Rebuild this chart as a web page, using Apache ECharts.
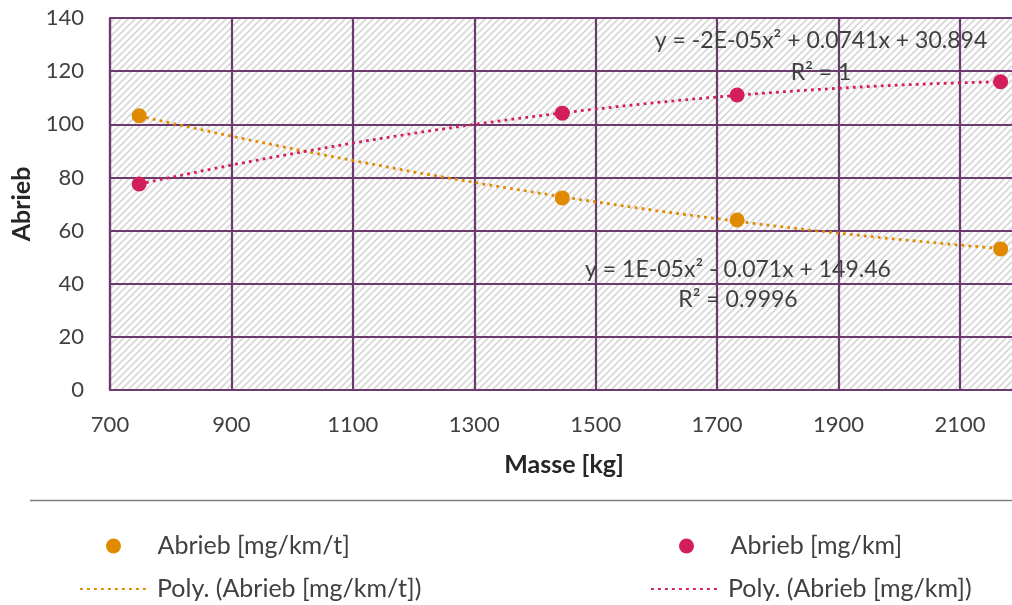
<!DOCTYPE html>
<html>
<head>
<meta charset="utf-8">
<script src="https://cdn.jsdelivr.net/npm/echarts@6/dist/echarts.min.js"></script>
<style>
  html, body { margin: 0; padding: 0; background: #fff; overflow: hidden; }
  #chart { width: 1012px; height: 605px; }
</style>
</head>
<body>
<div id="chart"></div>
<script>
// Vehicle mass [kg] against abrasion, two measured series
const masse = [748, 1445, 1733, 2167];
const abriebProTonne = [103.2, 72.3, 64.0, 53.1];   // Abrieb [mg/km/t]
const abriebProKm = [77.5, 104.2, 111.0, 116.0];    // Abrieb [mg/km]

const seriesNames = ['Abrieb [mg/km/t]', 'Abrieb [mg/km]'];
const trendNames = ['Poly. (Abrieb [mg/km/t])', 'Poly. (Abrieb [mg/km])'];
const equationTexts = [
  ['y = 1E-05x² - 0.071x + 149.46', 'R² = 0.9996'],
  ['y = -2E-05x² + 0.0741x + 30.894', 'R² = 1']
];

const xTicks = { min: 700, max: 2250, interval: 200 };
const yTicks = { min: 0, max: 140, interval: 20 };

const ORANGE = '#E08A00';
const PINK = '#D21F5C';
const GRID = '#6B3A6E';
const TEXT = '#404040';
const FONT = 'Lato, "Open Sans", sans-serif';

// Least-squares polynomial of order 2 through the measured points (trend line)
function quadFit(xs, ys) {
  const s = [0, 0, 0, 0, 0], t = [0, 0, 0];
  for (let i = 0; i < xs.length; i++) {
    let p = 1;
    for (let k = 0; k <= 4; k++) { s[k] += p; if (k <= 2) t[k] += p * ys[i]; p *= xs[i]; }
  }
  const M = [[s[0], s[1], s[2], t[0]], [s[1], s[2], s[3], t[1]], [s[2], s[3], s[4], t[2]]];
  for (let c = 0; c < 3; c++) {
    for (let r = c + 1; r < 3; r++) {
      const f = M[r][c] / M[c][c];
      for (let k = c; k < 4; k++) M[r][k] -= f * M[c][k];
    }
  }
  const co = [0, 0, 0];
  for (let r = 2; r >= 0; r--) {
    let v = M[r][3];
    for (let k = r + 1; k < 3; k++) v -= M[r][k] * co[k];
    co[r] = v / M[r][r];
  }
  return co; // c0 + c1 x + c2 x^2
}
function trendPoints(xs, ys) {
  const co = quadFit(xs, ys);
  const x0 = Math.min.apply(null, xs), x1 = Math.max.apply(null, xs);
  const pts = [];
  const n = 80;
  for (let i = 0; i <= n; i++) {
    const x = x0 + (x1 - x0) * i / n;
    pts.push([x, co[0] + co[1] * x + co[2] * x * x]);
  }
  return pts;
}

// Hatched plot-area fill
function hatchPattern() {
  const s = 7;
  const c = document.createElement('canvas');
  c.width = s; c.height = s;
  const g = c.getContext('2d');
  g.fillStyle = '#ffffff';
  g.fillRect(0, 0, s, s);
  g.strokeStyle = '#d6d6d6';
  g.lineWidth = 1.6;
  [-s, 0, s].forEach(function (o) {
    g.beginPath();
    g.moveTo(o - 1, s + 1);
    g.lineTo(o + s + 1, -1);
    g.stroke();
  });
  return c;
}

const chart = echarts.init(document.getElementById('chart'), null, { renderer: 'canvas' });

const dotted = { width: 2.8, type: [2.8, 4.2] };

function legendBox(name, left, top, isLine) {
  return {
    left: left, top: top, orient: 'vertical',
    itemWidth: 66, itemHeight: 15,
    textStyle: { color: TEXT, fontSize: 25, fontFamily: FONT, padding: [0, 0, 0, 6], lineHeight: 30 },
    data: [isLine ? { name: name, itemStyle: { opacity: 0 } } : name]
  };
}

const option = {
  animation: false,
  backgroundColor: '#fff',
  textStyle: { fontFamily: FONT },
  grid: {
    show: true,
    left: 110, top: 18, bottom: 215, width: 941,
    outerBoundsMode: 'none',
    containLabel: false,
    borderWidth: 0,
    backgroundColor: { image: hatchPattern(), repeat: 'repeat' }
  },
  xAxis: {
    type: 'value',
    min: xTicks.min, max: xTicks.max, interval: xTicks.interval,
    axisLine: { show: true, lineStyle: { color: GRID, width: 2.2 } },
    axisTick: { show: false },
    splitLine: { show: true, lineStyle: { color: GRID, width: 2.2 } },
    axisLabel: {
      color: TEXT, fontSize: 22, fontFamily: FONT, margin: 24, showMaxLabel: false,
      formatter: function (v) { return String(v); }
    }
  },
  yAxis: {
    type: 'value',
    min: yTicks.min, max: yTicks.max, interval: yTicks.interval,
    name: 'Abrieb',
    nameLocation: 'middle',
    nameGap: 73,
    nameTextStyle: { color: '#262626', fontSize: 25, fontWeight: 'bold', fontFamily: FONT },
    axisLine: { show: true, lineStyle: { color: GRID, width: 2.2 } },
    axisTick: { show: false },
    splitLine: { show: true, lineStyle: { color: GRID, width: 2.2 } },
    axisLabel: {
      color: TEXT, fontSize: 22, fontFamily: FONT, margin: 26,
      formatter: function (v) { return String(v); }
    }
  },
  legend: [
    legendBox(seriesNames[0], 101, 526, false),
    legendBox(trendNames[0], 74, 569, true),
    legendBox(seriesNames[1], 674, 526, false),
    legendBox(trendNames[1], 645, 569, true)
  ],
  series: [
    {
      name: trendNames[0], type: 'line', showSymbol: false, symbol: 'none',
      data: trendPoints(masse, abriebProTonne),
      lineStyle: Object.assign({ color: ORANGE }, dotted),
      itemStyle: { color: ORANGE }, z: 3
    },
    {
      name: trendNames[1], type: 'line', showSymbol: false, symbol: 'none',
      data: trendPoints(masse, abriebProKm),
      lineStyle: Object.assign({ color: PINK }, dotted),
      itemStyle: { color: PINK }, z: 3
    },
    {
      name: seriesNames[0], type: 'scatter', symbolSize: 15,
      data: masse.map(function (m, i) { return [m, abriebProTonne[i]]; }),
      itemStyle: { color: ORANGE, opacity: 1 }, z: 4
    },
    {
      name: seriesNames[1], type: 'scatter', symbolSize: 15,
      data: masse.map(function (m, i) { return [m, abriebProKm[i]]; }),
      itemStyle: { color: PINK, opacity: 1 }, z: 4
    }
  ],
  graphic: [
    { type: 'text', x: 564, y: 465, style: { text: 'Masse [kg]', font: 'bold 25px ' + FONT, fill: '#262626', textAlign: 'center', textVerticalAlign: 'middle' } },
    { type: 'text', x: 821, y: 41, z: 10, style: { text: equationTexts[1][0], font: '23px ' + FONT, fill: TEXT, textAlign: 'center', textVerticalAlign: 'middle' } },
    { type: 'text', x: 821, y: 73, z: 10, style: { text: equationTexts[1][1], font: '23px ' + FONT, fill: TEXT, textAlign: 'center', textVerticalAlign: 'middle' } },
    { type: 'text', x: 738, y: 270, z: 10, style: { text: equationTexts[0][0], font: '23px ' + FONT, fill: TEXT, textAlign: 'center', textVerticalAlign: 'middle' } },
    { type: 'text', x: 738, y: 300, z: 10, style: { text: equationTexts[0][1], font: '23px ' + FONT, fill: TEXT, textAlign: 'center', textVerticalAlign: 'middle' } },
    { type: 'line', z: 10, shape: { x1: 30, y1: 500.5, x2: 1012, y2: 500.5 }, style: { stroke: '#7f7f7f', lineWidth: 1.5 } }
  ]
};

chart.setOption(option);
</script>
</body>
</html>
